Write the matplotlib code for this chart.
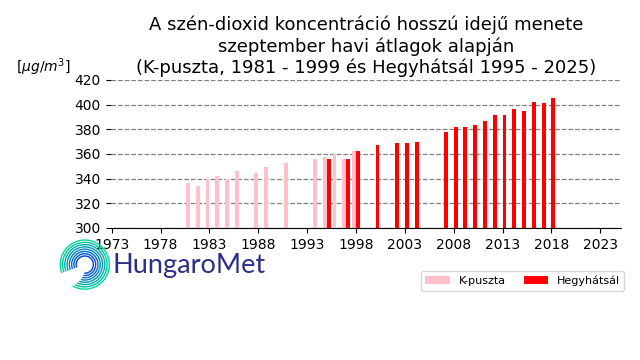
import matplotlib
matplotlib.use("Agg")
import matplotlib.pyplot as plt
import numpy as np
from matplotlib.patches import Arc

# K-puszta havi (szeptember) átlagok
kp_years = [1981, 1982, 1983, 1984, 1985, 1986, 1988, 1989, 1991, 1994, 1995, 1996, 1997, 1998]
kp_vals = [336.5, 334, 339.5, 342, 339.5, 346, 344.5, 349.5, 352.5, 356, 357.5, 360, 356, 362.5]

# Hegyhátsál
hh_years = [1995, 1997, 1998, 2000, 2002, 2003, 2004, 2007, 2008, 2009, 2010,
            2011, 2012, 2013, 2014, 2015, 2016, 2017, 2018]
hh_vals = [356, 356, 362.5, 367.5, 369, 369, 369.5, 378, 382, 382, 383.5,
           387, 391.5, 391.5, 396.5, 395, 402, 401.5, 405.5]

xticks = [1973, 1978, 1983, 1988, 1993, 1998, 2003, 2008, 2013, 2018, 2023]
yticks = [300, 320, 340, 360, 380, 400, 420]

fig = plt.figure(figsize=(6.4, 3.6), dpi=100)
ax = fig.add_axes([0.173, 0.367, 0.797, 0.411])

ax.bar(np.array(kp_years) - 0.2, kp_vals, width=0.4, color='pink', label='K-puszta', zorder=3)
ax.bar(np.array(hh_years) + 0.2, hh_vals, width=0.4, color='red', label='Hegyhátsál', zorder=3)

ax.set_xlim(1972.9, 2025.1)
ax.set_ylim(300, 420)
ax.set_xticks(xticks)
ax.set_yticks(yticks)
ax.tick_params(labelsize=10)
ax.grid(axis='y', linestyle='--', color='gray', linewidth=0.9, zorder=0)
for s in ['top', 'right', 'left']:
    ax.spines[s].set_visible(False)

ax.set_title('A szén-dioxid koncentráció hosszú idejű menete\n'
             'szeptember havi átlagok alapján\n'
             '(K-puszta, 1981 - 1999 és Hegyhátsál 1995 - 2025)',
             fontsize=13, pad=5)
fig.text(0.025, 0.814, r'[$\mu g/m^3$]', fontsize=10, va='center', ha='left')

ax.legend(loc='upper right', bbox_to_anchor=(1.018, -0.255), ncol=2, fontsize=8,
          handlelength=2.2, columnspacing=1.6)

# HungaroMet logo
lax = fig.add_axes([0.09, 0.19, 0.085, 0.15])
lax.set_xlim(-1.1, 1.1)
lax.set_ylim(-1.1, 1.1)
lax.set_aspect('equal')
lax.axis('off')
radii = np.linspace(0.35, 1.0, 8)
cols = plt.cm.winter(np.linspace(0.25, 0.85, len(radii)))
for r, c in zip(radii, cols):
    lax.add_patch(Arc((0, 0), 2 * r, 2 * r, theta1=-120 + 40 * (1 - r), theta2=200,
                      color=c, linewidth=1.0))
fig.text(0.176, 0.262, 'HungaroMet', fontsize=19.5, color='#2b2f86',
         va='center', ha='left', family='Lato')

fig.savefig('out.png', dpi=100)
